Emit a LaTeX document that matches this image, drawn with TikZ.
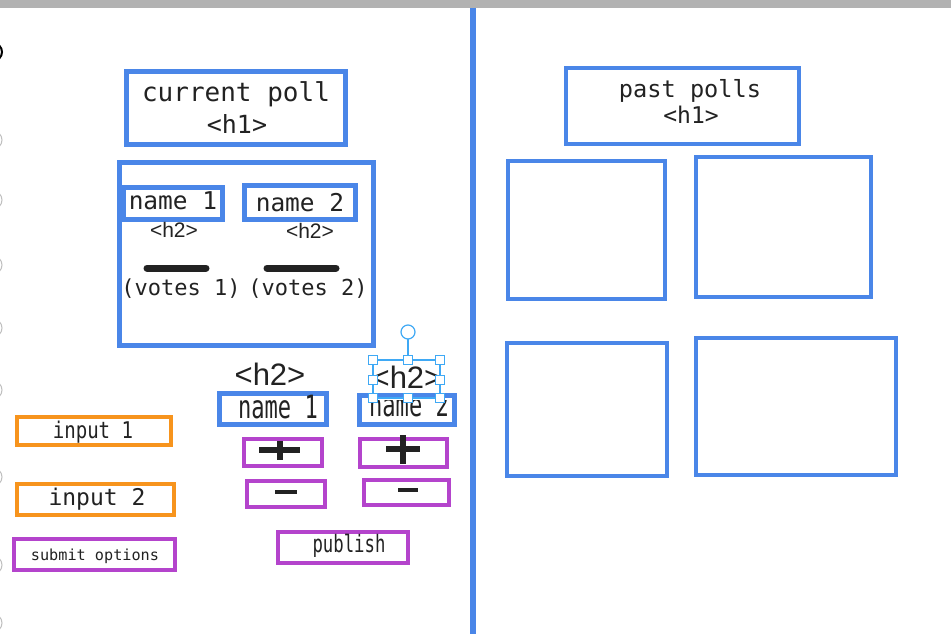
\documentclass[tikz,border=0pt]{standalone}
\usepackage{fontspec}
\newfontfamily\monof{DejaVu Sans Mono}
\newfontfamily\sansf{Liberation Sans}
\definecolor{gblue}{HTML}{4A86E8}
\definecolor{gorange}{HTML}{F7941D}
\definecolor{gpurple}{HTML}{B444CC}
\definecolor{hblue}{HTML}{3FA9F5}
\definecolor{txtc}{HTML}{222222}
\newcommand\fs[1]{\fontsize{#1}{#1}\selectfont}
\begin{document}
\begin{tikzpicture}[x=1pt,y=-1pt,
  bluebox/.style={draw=gblue, line width=4.5pt},
  orangebox/.style={draw=gorange, line width=4pt},
  purplebox/.style={draw=gpurple, line width=4pt},
  txt/.style={anchor=base, inner sep=0pt, text=txtc},
  handle/.style={draw=hblue, fill=white, line width=1pt, minimum size=9pt, inner sep=0pt},
  edgearc/.style={draw=black!25, line width=1pt},
  bar/.style={line width=7pt, line cap=round, draw=txtc},
  sign/.style={line width=5.5pt, draw=txtc}]
\useasboundingbox (0,0) rectangle (951,634);
\fill[white] (0,0) rectangle (951,634);
% top bar
\fill[black!30] (0,0) rectangle (951,8);
% left edge arcs
\draw[black, line width=2pt] (-7,52) circle (9);
\foreach \yy in {140,200,265,328,390,477,565,623}
  \draw[edgearc] (-7,\yy) circle (9);
% divider
\draw[gblue, line width=6pt] (473,8) -- (473,634);

% current poll
\draw[bluebox] (126.5,71.5) rectangle (345.5,144.5);
\node[txt] (cpt) at (236,102) {\monof\fs{26}current poll};
\node[txt] (cph) at (237,133) {\monof\fs{25}<h1>};

% big box
\draw[bluebox] (119.5,162.5) rectangle (373.5,345.5);
\draw[bluebox] (123.5,187.5) rectangle (222.5,219.5);
\node[txt] (n1t) at (173,209) {\monof\fs{24.5}name 1};
\draw[bluebox] (244.5,185.5) rectangle (355.5,219.5);
\node[txt] (n2t) at (300,211) {\monof\fs{24.5}name 2};
\node[txt] (h2a) at (174,237) {\sansf\fs{21}<h2>};
\node[txt] (h2b) at (310,238) {\sansf\fs{21}<h2>};
\draw[bar] (147,268) -- (206,268);
\draw[bar] (267,268) -- (336,268);
\node[txt] (v1) at (181,295) {\monof\fs{22}(votes 1)};
\node[txt] (v2) at (308,295) {\monof\fs{22}(votes 2)};

% lower controls
\node[txt] (h2c) at (270,385) {\sansf\fs{31}<h2>};
\draw[bluebox] (219.5,393.5) rectangle (326.5,424.5);
\node[txt] (n1b) at (278,418) {\scalebox{0.69}[1]{\monof\fs{32}name 1}};
\draw[bluebox] (359.5,395.5) rectangle (454.5,424.5);
\begin{scope}
  \clip (350,400) rectangle (460,430);
  \node[txt] (n2b) at (409,416) {\scalebox{0.69}[1]{\monof\fs{32}name 2}};
\end{scope}
\node[txt] (h2d) at (407,388) {\sansf\fs{31}<h2>};

% selection handles
\draw[hblue, line width=1.2pt] (373,360) rectangle (440,398);
\draw[hblue, line width=1.2pt] (408,339) -- (408,360);
\draw[hblue, line width=1.2pt, fill=white] (408,332) circle (7);
\foreach \hx/\hy in {373/360,408/360,440/360,373/380,440/380,373/398,408/398,440/398}
  \node[handle] at (\hx,\hy) {};

% plus / minus
\draw[purplebox] (244,439) rectangle (322,466);
\draw[sign] (259,450) -- (300,450);
\draw[sign, line width=6pt] (280,441) -- (280,460);
\draw[purplebox] (360,439) rectangle (447,467);
\draw[sign] (386,449) -- (420,449);
\draw[sign, line width=6pt] (403,435) -- (403,464);
\draw[purplebox] (247,481) rectangle (325,507);
\draw[sign, line width=4.5pt] (275,492) -- (297,492);
\draw[purplebox] (364,480) rectangle (449,505);
\draw[sign, line width=4.5pt] (398,490) -- (418,490);

\draw[purplebox] (278,532) rectangle (408,563);
\node[txt] (pub) at (349,552) {\scalebox{0.72}[1]{\monof\fs{24}publish}};

% inputs
\draw[orangebox] (17,417) rectangle (171,445);
\node[txt] (in1) at (93,438) {\scalebox{0.83}[1]{\monof\fs{23}input 1}};
\draw[orangebox] (17,484) rectangle (174,515);
\node[txt] (in2) at (97,505) {\monof\fs{23}input 2};
\draw[purplebox] (14,539) rectangle (175,570);
\node[txt] (sub) at (95,560) {\monof\fs{15.2}submit options};

% past polls
\draw[bluebox] (566,68) rectangle (799,144);
\node[txt] (ppt) at (690,97) {\monof\fs{23.6}past polls};
\node[txt] (pph) at (691,123) {\monof\fs{23}<h1>};
\draw[bluebox] (508,161) rectangle (665,299);
\draw[bluebox] (696,157) rectangle (871,297);
\draw[bluebox] (507,343) rectangle (667,476);
\draw[bluebox] (696,338) rectangle (896,475);
\end{tikzpicture}
\end{document}
